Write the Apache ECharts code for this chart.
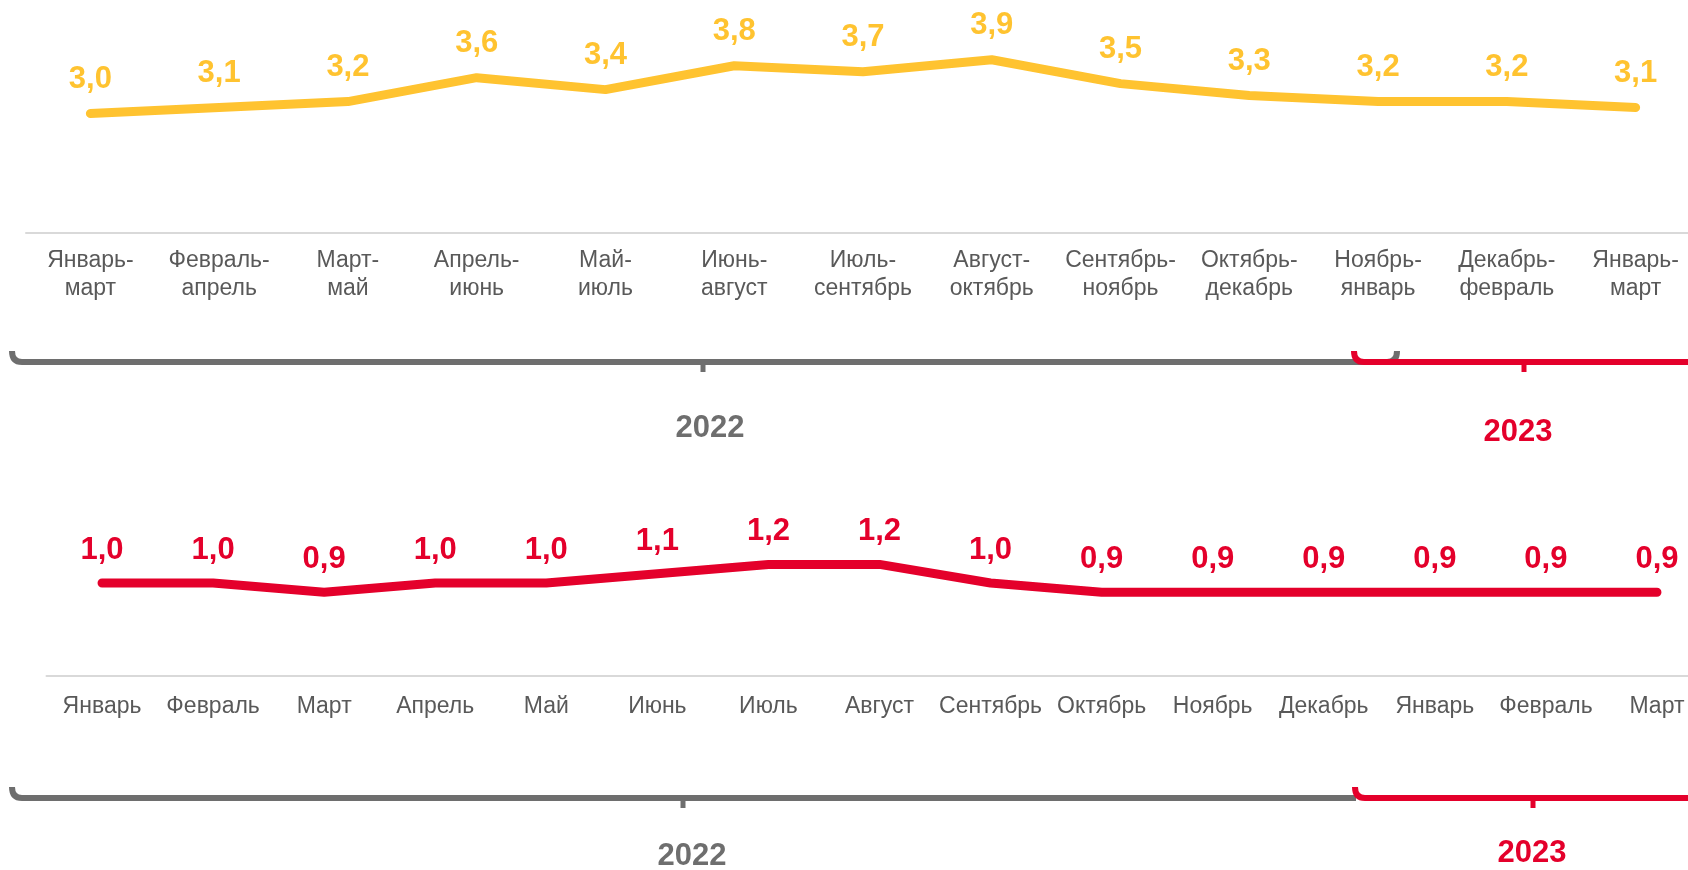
<!DOCTYPE html>
<html>
<head>
<meta charset="utf-8">
<script src="https://cdn.jsdelivr.net/npm/echarts@6/dist/echarts.min.js"></script>
<style>
html,body{margin:0;padding:0;background:#fff;}
#c{width:1688px;height:870px;}
</style>
</head>
<body>
<div id="c"></div>
<script>
// Top chart: three-month periods
const topCategories = ['Январь-\nмарт','Февраль-\nапрель','Март-\nмай','Апрель-\nиюнь','Май-\nиюль','Июнь-\nавгуст','Июль-\nсентябрь','Август-\nоктябрь','Сентябрь-\nноябрь','Октябрь-\nдекабрь','Ноябрь-\nянварь','Декабрь-\nфевраль','Январь-\nмарт'];
const topValues = [3.0, 3.1, 3.2, 3.6, 3.4, 3.8, 3.7, 3.9, 3.5, 3.3, 3.2, 3.2, 3.1];

// Bottom chart: months
const bottomCategories = ['Январь','Февраль','Март','Апрель','Май','Июнь','Июль','Август','Сентябрь','Октябрь','Ноябрь','Декабрь','Январь','Февраль','Март'];
const bottomValues = [1.0, 1.0, 0.9, 1.0, 1.0, 1.1, 1.2, 1.2, 1.0, 0.9, 0.9, 0.9, 0.9, 0.9, 0.9];

// Year labels
const yearLabels = ['2022', '2023'];

const YELLOW = '#FFC330';
const RED = '#E4002B';
const GRAY_TXT = '#595959';
const GRAY_BR = '#6E6E6E';
const FONT = '"Liberation Sans", Arial, sans-serif';

const fmt = p => p.value.toFixed(1).replace('.', ',');

const chart = echarts.init(document.getElementById('c'));

function axisX(idx, cats, margin) {
  return {
    type: 'category', gridIndex: idx, data: cats, boundaryGap: true,
    axisLine: {show: true, lineStyle: {color: '#D9D9D9', width: 2}},
    axisTick: {show: false},
    axisLabel: {interval: 0, color: GRAY_TXT, fontFamily: FONT, fontSize: 23, lineHeight: 28, margin: margin}
  };
}

// brace helpers (decorations, not data marks)
function hline(x1, x2, y, color) {
  return {type: 'line', shape: {x1: x1, y1: y, x2: x2, y2: y}, style: {stroke: color, lineWidth: 6}};
}
function stub(x, y, color) {
  return {type: 'line', shape: {x1: x, y1: y, x2: x, y2: y + 10}, style: {stroke: color, lineWidth: 5}};
}
function curl(x, y, dir, color) {
  return {type: 'bezierCurve', shape: {x1: x, y1: y - 11, cpx1: x, cpy1: y, x2: x + dir * 10, y2: y},
    style: {stroke: color, lineWidth: 6, fill: null}};
}

chart.setOption({
  animation: false,
  grid: [
    {left: 26, width: 1674, top: 0, height: 233, outerBoundsMode: 'none', containLabel: false},
    {left: 46.5, width: 1666, top: 490, height: 186, outerBoundsMode: 'none', containLabel: false}
  ],
  xAxis: [axisX(0, topCategories, 14), axisX(1, bottomCategories, 17)],
  yAxis: [
    {type: 'value', gridIndex: 0, min: 1, max: 4.9, show: false, splitLine: {show: false}},
    {type: 'value', gridIndex: 1, min: 0, max: 2, show: false, splitLine: {show: false}}
  ],
  series: [
    {
      type: 'line', xAxisIndex: 0, yAxisIndex: 0, data: topValues,
      symbol: 'circle', symbolSize: 1, itemStyle: {color: YELLOW},
      lineStyle: {color: YELLOW, width: 9, cap: 'round', join: 'round'},
      label: {show: true, position: 'top', distance: 18, formatter: fmt, color: YELLOW,
        fontFamily: FONT, fontWeight: 'bold', fontSize: 31, lineHeight: 32}
    },
    {
      type: 'line', xAxisIndex: 1, yAxisIndex: 1, data: bottomValues,
      symbol: 'circle', symbolSize: 1, itemStyle: {color: RED},
      lineStyle: {color: RED, width: 9, cap: 'round', join: 'round'},
      label: {show: true, position: 'top', distance: 16, formatter: fmt, color: RED,
        fontFamily: FONT, fontWeight: 'bold', fontSize: 31, lineHeight: 32}
    }
  ],
  graphic: [
    // top braces
    curl(12, 362, 1, GRAY_BR), hline(22, 1387, 362, GRAY_BR), curl(1397, 362, -1, GRAY_BR), stub(703, 362, GRAY_BR),
    curl(1354, 362, 1, RED), hline(1364, 1700, 362, RED), stub(1524, 362, RED),
    // bottom braces
    curl(12, 798, 1, GRAY_BR), hline(22, 1356, 798, GRAY_BR), stub(683, 798, GRAY_BR),
    curl(1355, 798, 1, RED), hline(1365, 1700, 798, RED), stub(1533, 798, RED),
    // year labels
    {type: 'text', x: 710, y: 428, style: {text: yearLabels[0], fill: GRAY_BR, font: 'bold 31px ' + FONT, textAlign: 'center', textVerticalAlign: 'middle'}},
    {type: 'text', x: 1518, y: 432, style: {text: yearLabels[1], fill: RED, font: 'bold 31px ' + FONT, textAlign: 'center', textVerticalAlign: 'middle'}},
    {type: 'text', x: 692, y: 856, style: {text: yearLabels[0], fill: GRAY_BR, font: 'bold 31px ' + FONT, textAlign: 'center', textVerticalAlign: 'middle'}},
    {type: 'text', x: 1532, y: 853, style: {text: yearLabels[1], fill: RED, font: 'bold 31px ' + FONT, textAlign: 'center', textVerticalAlign: 'middle'}}
  ]
});
</script>
</body>
</html>
